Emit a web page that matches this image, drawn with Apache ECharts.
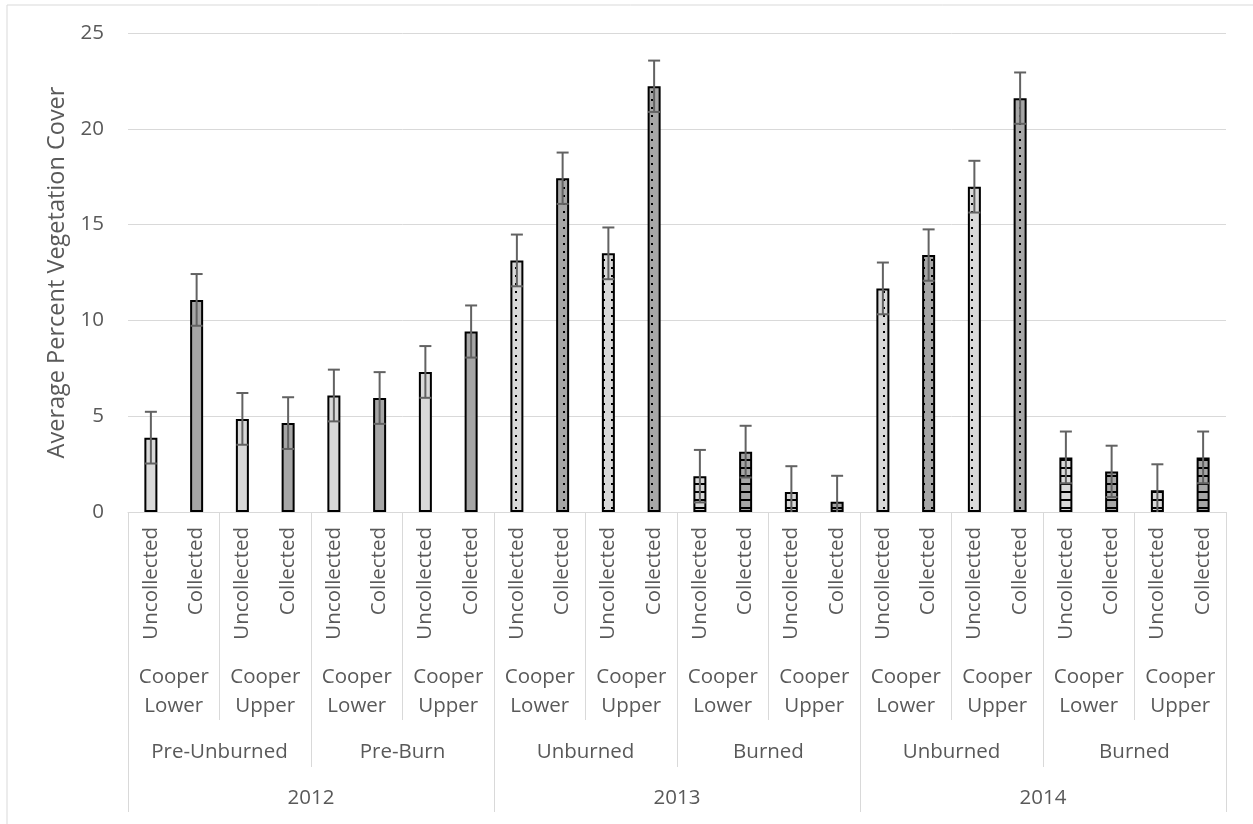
<!DOCTYPE html>
<html>
<head>
<meta charset="utf-8">
<script src="https://cdn.jsdelivr.net/npm/echarts@6/dist/echarts.min.js"></script>
<style>
html,body{margin:0;padding:0;background:#fff;}
#chart{width:1253px;height:824px;}
</style>
</head>
<body>
<div id="chart"></div>
<script>
// ---- data ----
const years = ['2012', '2013', '2014'];
const treatments = ['Pre-Unburned', 'Pre-Burn', 'Unburned', 'Burned', 'Unburned', 'Burned'];
const sites = ['Cooper\nLower', 'Cooper\nUpper', 'Cooper\nLower', 'Cooper\nUpper', 'Cooper\nLower', 'Cooper\nUpper',
               'Cooper\nLower', 'Cooper\nUpper', 'Cooper\nLower', 'Cooper\nUpper', 'Cooper\nLower', 'Cooper\nUpper'];
const collection = ['Uncollected', 'Collected', 'Uncollected', 'Collected', 'Uncollected', 'Collected',
                    'Uncollected', 'Collected', 'Uncollected', 'Collected', 'Uncollected', 'Collected',
                    'Uncollected', 'Collected', 'Uncollected', 'Collected', 'Uncollected', 'Collected',
                    'Uncollected', 'Collected', 'Uncollected', 'Collected', 'Uncollected', 'Collected'];
const values = [3.88, 11.07, 4.86, 4.64, 6.08, 5.95, 7.31, 9.42,
                13.13, 17.42, 13.50, 22.22, 1.87, 3.15, 1.05, 0.54,
                11.67, 13.41, 16.98, 21.60, 2.85, 2.12, 1.14, 2.85];
const errors = [1.35, 1.35, 1.35, 1.35, 1.35, 1.35, 1.35, 1.36,
                1.35, 1.34, 1.35, 1.34, 1.37, 1.35, 1.34, 1.35,
                1.35, 1.34, 1.35, 1.34, 1.35, 1.34, 1.35, 1.35];
const yTicks = { min: 0, max: 25, interval: 5 };
const yTitle = 'Average Percent Vegetation Cover';

// ---- styling ----
const TEXT = '#595959';
const GRIDC = '#d9d9d9';
const FONT = 'Open Sans';
const FS = 20.5;
const LIGHT = '#d9d9d9', DARK = '#a6a6a6';

function makeTile(bg, kind) {
  const c = document.createElement('canvas');
  c.width = 8; c.height = 8;
  const g = c.getContext('2d');
  g.fillStyle = bg; g.fillRect(0, 0, 8, 8);
  g.fillStyle = '#000';
  if (kind === 'dots') g.fillRect(3, 3, 2, 2);
  if (kind === 'hlines') g.fillRect(0, 3, 8, 2);
  return { image: c, repeat: 'repeat' };
}
function fillFor(i) {
  const bg = collection[i] === 'Collected' ? DARK : LIGHT;
  const t = treatments[Math.floor(i / 4)];
  if (t === 'Unburned') return makeTile(bg, 'dots');
  if (t === 'Burned') return makeTile(bg, 'hlines');
  return bg;
}

const barData = values.map((v, i) => ({ value: v, itemStyle: { color: fillFor(i) } }));
const errData = values.map((v, i) => [i, v, errors[i]]);

const chart = echarts.init(document.getElementById('chart'), null, { renderer: 'canvas' });
const lbl = { color: TEXT, fontFamily: FONT, fontSize: FS };

chart.setOption({
  animation: false,
  backgroundColor: '#fff',
  graphic: [{
    type: 'rect', shape: { x: 7, y: 5, width: 1270, height: 840 },
    style: { fill: null, stroke: GRIDC, lineWidth: 1 }, silent: true, z: -10
  }],
  grid: { left: 128, right: 27, top: 33, bottom: 312 },
  xAxis: [
    { type: 'category', data: collection, position: 'bottom',
      axisLine: { show: true, lineStyle: { color: GRIDC, width: 1 } },
      axisTick: { show: false },
      axisLabel: Object.assign({ interval: 0, rotate: 90, margin: 15 }, lbl) },
    { type: 'category', data: sites, position: 'bottom',
      axisLine: { show: false },
      axisTick: { show: true, interval: 0, length: 208, lineStyle: { color: GRIDC, width: 1 } },
      axisLabel: Object.assign({ interval: 0, margin: 151, lineHeight: 29 }, lbl) },
    { type: 'category', data: treatments, position: 'bottom',
      axisLine: { show: false },
      axisTick: { show: true, interval: 0, length: 255, lineStyle: { color: GRIDC, width: 1 } },
      axisLabel: Object.assign({ interval: 0, margin: 230 }, lbl) },
    { type: 'category', data: years, position: 'bottom',
      axisLine: { show: false },
      axisTick: { show: true, interval: 0, length: 300, lineStyle: { color: GRIDC, width: 1 } },
      axisLabel: Object.assign({ interval: 0, margin: 276 }, lbl) }
  ],
  yAxis: {
    type: 'value', min: yTicks.min, max: yTicks.max, interval: yTicks.interval,
    name: yTitle, nameLocation: 'middle', nameGap: 57,
    nameTextStyle: { color: TEXT, fontFamily: FONT, fontSize: 23.5 },
    axisLine: { show: false }, axisTick: { show: false },
    axisLabel: Object.assign({ margin: 24 }, lbl),
    splitLine: { lineStyle: { color: GRIDC, width: 1 } }
  },
  series: [
    { type: 'bar', xAxisIndex: 0, yAxisIndex: 0, data: barData, barWidth: 13,
      itemStyle: { borderColor: '#000', borderWidth: 2 }, z: 2 },
    { type: 'custom', xAxisIndex: 0, yAxisIndex: 0, data: errData, z: 5,
      renderItem: function (params, api) {
        const idx = api.value(0), v = api.value(1), e = api.value(2);
        const x = api.coord([idx, v])[0];
        const yTop = api.coord([idx, v + e])[1];
        const lo = Math.max(0, v - e);
        const yBot = api.coord([idx, lo])[1];
        const st = { stroke: '#626262', lineWidth: 2 };
        const ch = [
          { type: 'line', shape: { x1: x, y1: yTop, x2: x, y2: yBot }, style: st },
          { type: 'line', shape: { x1: x - 6, y1: yTop, x2: x + 6, y2: yTop }, style: st }
        ];
        if (v - e > 0) ch.push({ type: 'line', shape: { x1: x - 6, y1: yBot, x2: x + 6, y2: yBot }, style: st });
        return { type: 'group', children: ch };
      } }
  ]
});
</script>
</body>
</html>
